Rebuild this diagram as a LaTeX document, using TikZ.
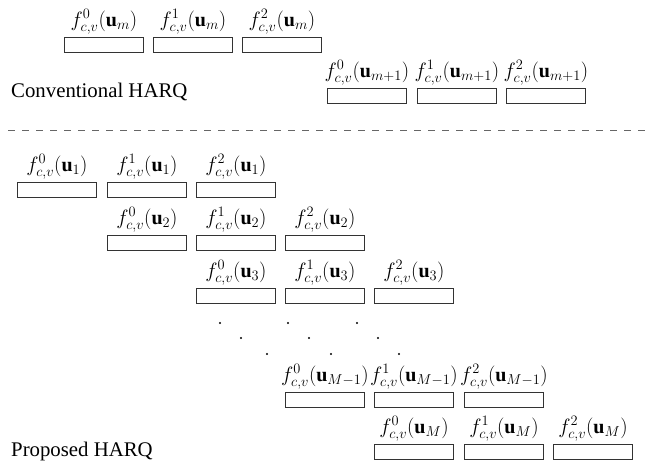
\documentclass[tikz,border=0pt]{standalone}
\usepackage{fontspec}
\setmainfont{Liberation Serif}
\begin{document}
\begin{tikzpicture}[x=1pt,y=-1pt,
  box/.style={draw=black!80, line width=0.9pt, minimum width=79pt, minimum height=15pt, inner sep=0pt, anchor=north west},
  lab/.style={anchor=south, inner sep=0pt, font=\fontsize{20}{23}\selectfont},
  ttl/.style={anchor=base west, inner sep=0pt, font=\fontsize{20.8}{24}\selectfont},
  dot/.style={circle, fill=black, inner sep=0pt, minimum size=2.4pt}]
\useasboundingbox (0,0) rectangle (659,466);
% Conventional HARQ
\foreach \k/\x in {0/64,1/153,2/242} {
  \node[box] (cm\k) at (\x,37) {};
  \node[lab] (lcm\k) at ([yshift=2.5pt]cm\k.north) {$f^{\k}_{c,v}(\mathbf{u}_m)$};
}
\foreach \k/\x in {0/327,1/417,2/506} {
  \node[box] (cn\k) at (\x,88) {};
  \node[lab] (lcn\k) at ([yshift=2.5pt]cn\k.north) {$f^{\k}_{c,v}(\mathbf{u}_{m+1})$};
}
\node[ttl] (conv) at (11,97) {Conventional HARQ};
% separator
\coordinate (sepL) at (8,130);
\coordinate (sepR) at (651,130);
\draw[black!60, line width=0.8pt, dash pattern=on 7pt off 7pt] (sepL) -- (sepR);
% Proposed HARQ
\foreach \r/\s/\a/\b/\c/\y in {1/1/17/107/196/182, 2/2/107/196/285/235, 3/3/196/285/374/288, 4/{M-1}/285/374/464/392, 5/M/374/464/553/444} {
  \node[box] (p\r a) at (\a,\y) {};
  \node[box] (p\r b) at (\b,\y) {};
  \node[box] (p\r c) at (\c,\y) {};
  \node[lab] (lp\r a) at ([yshift=2.5pt]p\r a.north) {$f^{0}_{c,v}(\mathbf{u}_{\s})$};
  \node[lab] (lp\r b) at ([yshift=2.5pt]p\r b.north) {$f^{1}_{c,v}(\mathbf{u}_{\s})$};
  \node[lab] (lp\r c) at ([yshift=2.5pt]p\r c.north) {$f^{2}_{c,v}(\mathbf{u}_{\s})$};
}
% dots
\foreach \i/\x/\y in {1/220/323,2/288/323,3/357/323,4/241/338,5/309/338,6/378/338,7/267/354,8/331/354,9/399/354} {
  \node[dot] (d\i) at (\x,\y) {};
}
\node[ttl] (prop) at (11,456) {Proposed HARQ};
\end{tikzpicture}
\end{document}
